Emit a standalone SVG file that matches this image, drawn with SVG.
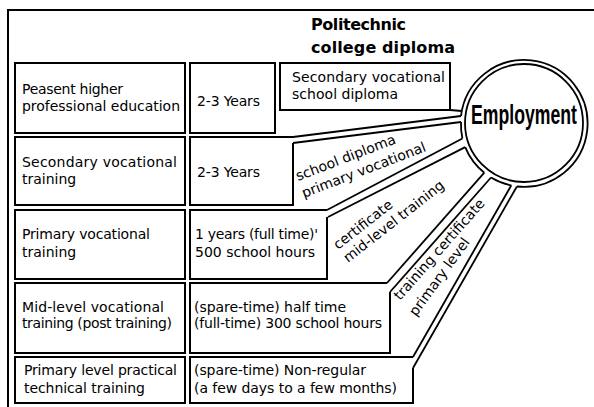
<svg xmlns="http://www.w3.org/2000/svg" width="594" height="407" viewBox="0 0 594 407">
<style>
.ln{fill:none;stroke:#000;stroke-width:1.8}
.bx{fill:none;stroke:#000;stroke-width:2}
.t{font-family:"DejaVu Sans","Liberation Sans",sans-serif;font-size:14px;fill:#000}
.tb{font-family:"DejaVu Sans","Liberation Sans",sans-serif;font-size:16px;font-weight:bold;fill:#000}
.emp{font-family:"Liberation Sans","DejaVu Sans",sans-serif;font-size:28px;font-weight:bold;fill:#000}
</style>
<rect width="594" height="407" fill="#fff"/>
<g id="frame"><path class="bx" d="M8,407 V10 H594"/></g>
<g id="title">
<text class="tb" x="311" y="30" textLength="95">Politechnic</text>
<text class="tb" x="311" y="53" textLength="144">college diploma</text>
</g>
<g id="level-1"><rect class="bx" x="15" y="63" width="170" height="70"/>
<text class="t" x="22" y="94" textLength="101">Peasent higher</text>
<text class="t" x="22" y="111" textLength="158">professional education</text></g>
<g id="level-2"><rect class="bx" x="15" y="137" width="170" height="68"/>
<text class="t" x="22" y="167" textLength="155">Secondary vocational</text>
<text class="t" x="22" y="184">training</text></g>
<g id="level-3"><rect class="bx" x="15" y="210" width="170" height="69"/>
<text class="t" x="22" y="239" textLength="128">Primary vocational</text>
<text class="t" x="22" y="257">training</text></g>
<g id="level-4"><rect class="bx" x="15" y="283" width="170" height="70"/>
<text class="t" x="22" y="312" textLength="142">Mid-level vocational</text>
<text class="t" x="22" y="328" textLength="150">training (post training)</text></g>
<g id="level-5"><rect class="bx" x="15" y="357" width="170" height="46"/>
<text class="t" x="24" y="375" textLength="153">Primary level practical</text>
<text class="t" x="24" y="393" textLength="121">technical training</text></g>
<g id="duration-1"><rect class="bx" x="190" y="63" width="85" height="70"/>
<text class="t" x="197" y="106" textLength="63">2-3 Years</text></g>
<g id="duration-2"><path class="bx" d="M293,143 V205 H190 V137 H293"/>
<text class="t" x="197" y="177" textLength="63">2-3 Years</text></g>
<g id="duration-3"><path class="bx" d="M327,217 V279 H190 V210 H327"/>
<text class="t" x="195" y="239" textLength="123">1 years (full time)'</text>
<text class="t" x="195" y="257" textLength="120">500 school hours</text></g>
<g id="duration-4"><path class="bx" d="M390,292 V353 H190 V283 H387"/>
<text class="t" x="194" y="312" textLength="152">(spare-time) half time</text>
<text class="t" x="194" y="328" textLength="188">(full-time) 300 school hours</text></g>
<g id="duration-5"><path class="bx" d="M413,368 V403 H190 V357 H413"/>
<text class="t" x="194" y="375" textLength="172">(spare-time) Non-regular</text>
<text class="t" x="194" y="393" textLength="203">(a few days to a few months)</text></g>
<g id="diploma"><rect class="bx" x="280" y="63" width="170" height="47"/>
<text class="t" x="292" y="82" textLength="153">Secondary vocational</text>
<text class="t" x="292" y="99" textLength="106">school diploma</text></g>
<g id="employment">
<path class="ln" d="M516.9,186.5 A63.5,63.5 0 1 0 461,116"/>
<path class="ln" d="M461,122 A63.5,63.5 0 0 0 462.4,138.5"/>
<path class="ln" d="M465.2,147.1 A63.5,63.5 0 0 0 484.3,172.7"/>
<path class="ln" d="M491,177.5 A63.5,63.5 0 0 0 511.3,185.4"/>
<circle class="ln" cx="524" cy="123" r="59"/>
<text class="emp" transform="translate(524,124) scale(0.63,1)" text-anchor="middle">Employment</text>
</g>
<g id="connectors">
<path class="ln" d="M450,110 L461.8,111"/>
<path class="ln" d="M293,137 L461,116"/>
<path class="ln" d="M293,143 L461,122"/>
<path class="ln" d="M327,210 L462.4,138.5"/>
<path class="ln" d="M328,217 L465.2,147.1"/>
<path class="ln" d="M387,283 L484.3,172.7"/>
<path class="ln" d="M390,292 L491,177.5"/>
<path class="ln" d="M413,357 L511.3,185.4"/>
<path class="ln" d="M413,368 L516.9,186.5"/>
</g>
<g id="connector-labels">
<text class="t" transform="translate(298,181) rotate(-21)">school diploma</text>
<text class="t" transform="translate(304,198) rotate(-21)">primary vocational</text>
<text class="t" transform="translate(338,250) rotate(-38)">certificate</text>
<text class="t" transform="translate(348,263) rotate(-38)">mid-level training</text>
<text class="t" transform="translate(400,301) rotate(-48.6)">training certificate</text>
<text class="t" transform="translate(416,317) rotate(-54)">primary level</text>
</g>
</svg>
